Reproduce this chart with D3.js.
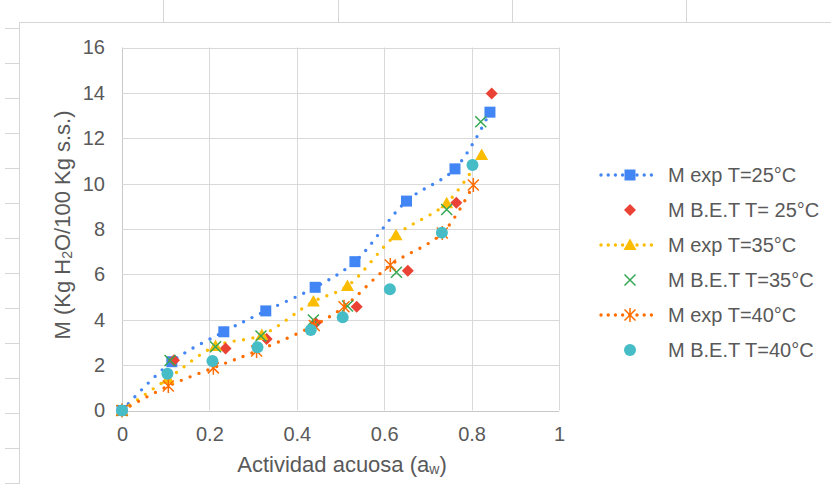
<!DOCTYPE html>
<html>
<head>
<meta charset="utf-8">
<script src="https://cdn.jsdelivr.net/npm/d3@7"></script>
<style>
  body { margin: 0; background: #fff; }
  svg { display: block; font-family: "Liberation Sans", Arial, sans-serif; }
</style>
</head>
<body>
<svg id="chart"></svg>
<script>
// Series names
const seriesNames = ["M exp T=25°C", "M B.E.T T= 25°C", "M exp T=35°C", "M B.E.T T=35°C", "M exp T=40°C", "M B.E.T T=40°C"];

// Water activity (x) per series
const awExp25 = [0, 0.114, 0.233, 0.329, 0.442, 0.533, 0.651, 0.762, 0.842];
const awBet25 = [0, 0.119, 0.237, 0.331, 0.443, 0.537, 0.654, 0.765, 0.846];
const awExp35 = [0, 0.105, 0.214, 0.320, 0.438, 0.516, 0.627, 0.743, 0.823];
const awBet35 = [0, 0.110, 0.214, 0.318, 0.438, 0.516, 0.628, 0.743, 0.821];
const awExp40 = [0, 0.106, 0.209, 0.308, 0.440, 0.508, 0.614, 0.733, 0.804];
const awBet40 = [0, 0.104, 0.207, 0.310, 0.432, 0.505, 0.613, 0.732, 0.802];

// Moisture content M (y) per series
const mExp25 = [0, 2.15, 3.47, 4.39, 5.43, 6.56, 9.23, 10.65, 13.15];
const mBet25 = [0, 2.22, 2.73, 3.15, 3.86, 4.57, 6.16, 9.16, 13.97];
const mExp35 = [0, 1.40, 2.84, 3.33, 4.80, 5.49, 7.73, 9.14, 11.26];
const mBet35 = [0, 2.20, 2.81, 3.28, 3.99, 4.61, 6.09, 8.86, 12.73];
const mExp40 = [0, 1.08, 1.88, 2.62, 3.75, 4.57, 6.41, 7.82, 9.94];
const mBet40 = [0, 1.62, 2.18, 2.79, 3.55, 4.11, 5.34, 7.84, 10.82];

// Tick values
const xTicks = [0, 0.2, 0.4, 0.6, 0.8, 1];
const yTicks = [0, 2, 4, 6, 8, 10, 12, 14, 16];

const W = 831, H = 484;
const textColor = "#595959";
const gridColor = "#d9d9d9";

const series = [
  {name: seriesNames[0], x: awExp25, y: mExp25, color: "#4285f4", marker: "square", line: true},
  {name: seriesNames[1], x: awBet25, y: mBet25, color: "#ea4335", marker: "diamond", line: false},
  {name: seriesNames[2], x: awExp35, y: mExp35, color: "#fbbc04", marker: "triangle", line: true},
  {name: seriesNames[3], x: awBet35, y: mBet35, color: "#34a853", marker: "x", line: false},
  {name: seriesNames[4], x: awExp40, y: mExp40, color: "#ff6d01", marker: "star", line: true},
  {name: seriesNames[5], x: awBet40, y: mBet40, color: "#46bdc6", marker: "circle", line: false}
];

const svg = d3.select("#chart").attr("width", W).attr("height", H);
svg.append("rect").attr("width", W).attr("height", H).attr("fill", "#fff");

// spreadsheet cell lines behind the chart
const sheet = svg.append("g").attr("stroke", "#d6d6d6").attr("stroke-width", 1);
sheet.append("line").attr("x1", 19).attr("x2", W).attr("y1", 22.5).attr("y2", 22.5);
sheet.append("line").attr("x1", 19.5).attr("x2", 19.5).attr("y1", 22).attr("y2", H);
[163, 338, 512, 686].forEach(x => sheet.append("line").attr("x1", x + 0.5).attr("x2", x + 0.5).attr("y1", 0).attr("y2", 22));
d3.range(28, H, 35).forEach(y => sheet.append("line").attr("x1", 5).attr("x2", 19).attr("y1", y + 0.5).attr("y2", y + 0.5));

// scales
const x = d3.scaleLinear().domain([0, 1]).range([122, 559]);
const y = d3.scaleLinear().domain([0, 16]).range([410.5, 47.5]);

// grid
const grid = svg.append("g");
grid.selectAll(".gx").data(xTicks).enter().append("line")
  .attr("x1", d => Math.round(x(d)) + 0.5).attr("x2", d => Math.round(x(d)) + 0.5)
  .attr("y1", y(16)).attr("y2", y(0))
  .attr("stroke", d => d === 0 ? "#c8c8c8" : gridColor);
grid.selectAll(".gy").data(yTicks).enter().append("line")
  .attr("x1", x(0)).attr("x2", x(1))
  .attr("y1", d => Math.round(y(d)) + 0.5).attr("y2", d => Math.round(y(d)) + 0.5)
  .attr("stroke", d => d === 0 ? "#c8c8c8" : gridColor);

// axes
const xAxis = svg.append("g").attr("transform", `translate(0,${y(0)})`)
  .call(d3.axisBottom(x).tickValues(xTicks).tickSize(0).tickPadding(16).tickFormat(d3.format("~g")));
const yAxis = svg.append("g").attr("transform", `translate(${x(0)},0)`)
  .call(d3.axisLeft(y).tickValues(yTicks).tickSize(0).tickPadding(17).tickFormat(d3.format("d")));
[xAxis, yAxis].forEach(a => {
  a.select(".domain").remove();
  a.selectAll("text").attr("fill", textColor).style("font-size", "20px")
    .style("font-family", "'Liberation Sans', Arial, sans-serif");
});

// axis titles
const xt = svg.append("text").attr("x", 342).attr("y", 471.5).attr("text-anchor", "middle")
  .attr("fill", textColor).style("font-size", "22px");
xt.append("tspan").text("Actividad acuosa (a");
xt.append("tspan").attr("font-size", "14px").attr("dy", 2).text("w");
xt.append("tspan").attr("dy", -2).text(")");

const yt = svg.append("text").attr("transform", "translate(70,225) rotate(-90)").attr("text-anchor", "middle")
  .attr("fill", textColor).style("font-size", "22px");
yt.append("tspan").text("M (Kg H");
yt.append("tspan").attr("font-size", "14px").attr("dy", 2).text("2");
yt.append("tspan").attr("dy", -2).text("O/100 Kg s.s.)");

// marker drawing
function drawMarker(g, type, color) {
  if (type === "square") {
    g.append("rect").attr("x", -5.5).attr("y", -5.5).attr("width", 11).attr("height", 11).attr("fill", color);
  } else if (type === "diamond") {
    g.append("path").attr("d", "M0,-6L6,0L0,6L-6,0Z").attr("fill", color);
  } else if (type === "triangle") {
    g.append("path").attr("d", "M0,-6.5L6.5,5L-6.5,5Z").attr("fill", color);
  } else if (type === "x") {
    g.append("path").attr("d", "M-5.5,-5.5L5.5,5.5M-5.5,5.5L5.5,-5.5").attr("stroke", color).attr("stroke-width", 1.5).attr("fill", "none");
  } else if (type === "star") {
    g.append("path").attr("d", "M-5.5,-5.5L5.5,5.5M-5.5,5.5L5.5,-5.5M0,-7L0,7").attr("stroke", color).attr("stroke-width", 1.5).attr("fill", "none");
  } else {
    g.append("circle").attr("r", 6).attr("fill", color);
  }
}

const line = d3.line().x(d => x(d[0])).y(d => y(d[1])).curve(d3.curveCatmullRom.alpha(0.5));

// dotted lines first
series.filter(s => s.line).forEach(s => {
  svg.append("path")
    .datum(s.x.map((v, i) => [v, s.y[i]]))
    .attr("d", line)
    .attr("fill", "none")
    .attr("stroke", s.color)
    .attr("stroke-width", 3.4)
    .attr("stroke-linecap", "round")
    .attr("stroke-dasharray", "0 9.5");
});

// then markers
series.forEach(s => {
  svg.append("g").selectAll("g")
    .data(s.x.map((v, i) => [v, s.y[i]]))
    .enter().append("g")
    .attr("transform", d => `translate(${x(d[0])},${y(d[1])})`)
    .each(function() { drawMarker(d3.select(this), s.marker, s.color); });
});

// legend
const legend = svg.append("g");
series.forEach((s, i) => {
  const ly = 175 + i * 35;
  const row = legend.append("g").attr("transform", `translate(0,${ly})`);
  if (s.line) {
    row.append("line").attr("x1", 601).attr("x2", 657).attr("y1", 0).attr("y2", 0)
      .attr("stroke", s.color).attr("stroke-width", 3.4).attr("stroke-linecap", "round")
      .attr("stroke-dasharray", "0 7.2");
  }
  drawMarker(row.append("g").attr("transform", "translate(630,0)"), s.marker, s.color);
  row.append("text").attr("x", 668).attr("y", 0).attr("dy", "0.35em")
    .attr("fill", textColor).style("font-size", "20px").text(s.name);
});
</script>
</body>
</html>
